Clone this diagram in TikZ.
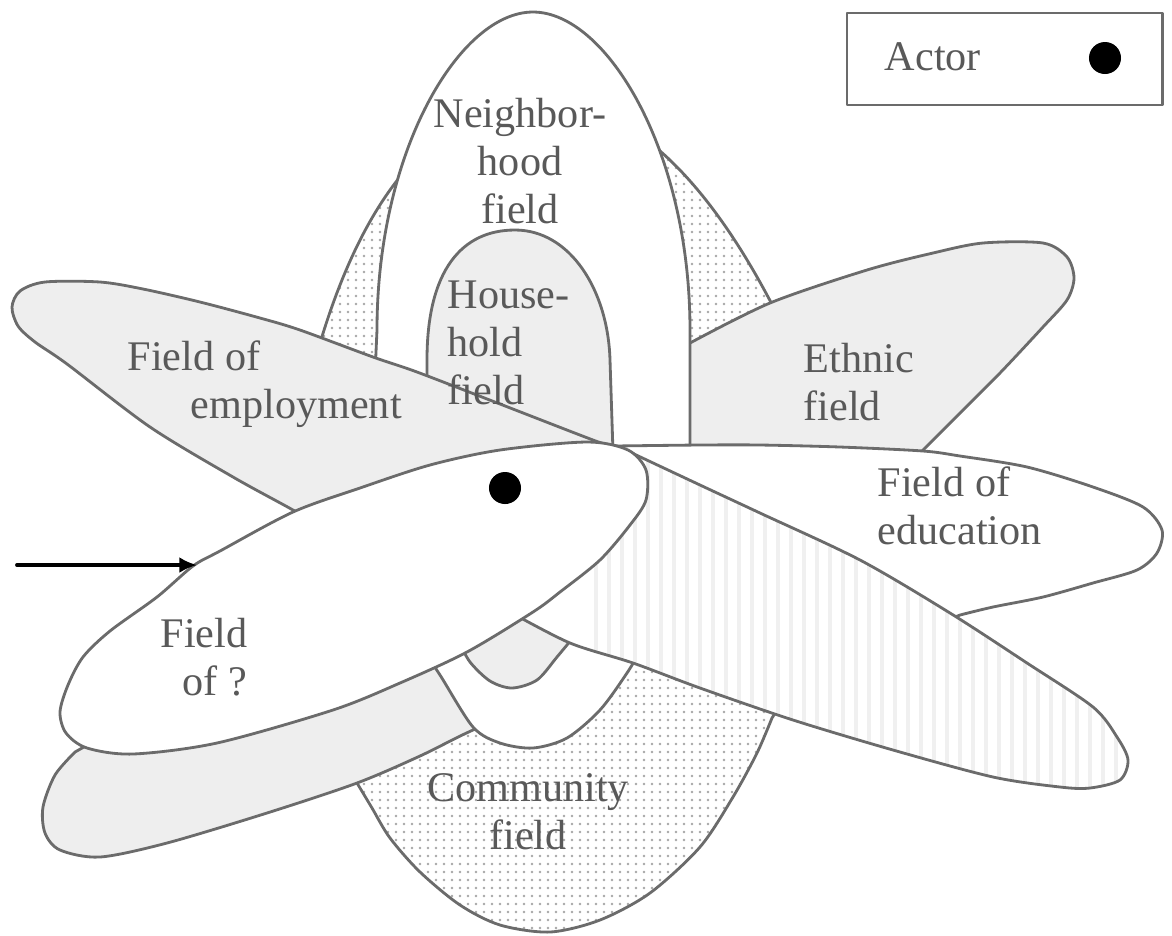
\documentclass[tikz,border=0pt]{standalone}
\usepackage{fontspec}
\setmainfont{Liberation Serif}
\usetikzlibrary{arrows.meta}
\definecolor{linegray}{gray}{0.42}
\definecolor{textgray}{gray}{0.35}
\definecolor{fieldgray}{gray}{0.935}
% outlines of the fields, in pixel units of the sketch
\newcommand{\dotarchpath}{(318,350) .. controls (360,205) and (430,105) .. (540,100) .. controls (640,100) and (720,200) .. (780,320) -- (720,400) -- (600,425) -- (345,372) -- cycle}
\newcommand{\nbhpath}{(372,440) -- (377,330) .. controls (377,150) and (460,12) .. (533,12) .. controls (606,12) and (690,150) .. (690,330) -- (690,470) -- cycle}
\newcommand{\househpath}{(427,440) -- (427,360) .. controls (427,270) and (462,230) .. (515,230) .. controls (570,230) and (608,290) .. (610,360) -- (613,452) -- cycle}
\newcommand{\ethnicpath}{(650,465) -- (650,355) -- plot[smooth] coordinates {(690,343) (770,303) (867,270) (933,253) (983,243) (1043,243) (1067,257) (1074,278) (1067,300) (1043,327) (1000,373) (960,413) (923,450) (905,468)} -- cycle}
\newcommand{\employpath}{plot[smooth] coordinates {(615,447) (593,440) (500,404) (417,372) (373,357) (300,330) (260,318) (200,302) (143,289) (100,282) (45,282) (20,291) (12,307) (18,326) (35,342) (67,364) (150,427) (233,477) (293,510) (345,540)} -- (480,540) -- (600,470) -- cycle}
\newcommand{\graypetalpath}{(150,715) -- (100,738) -- plot[smooth] coordinates {(75,752) (55,775) (43,807) (45,833) (60,850) (100,857) (167,843) (267,813) (357,783) (420,756) (473,730) (550,698) (610,666)} -- (700,640) -- (620,560) -- cycle}
\newcommand{\midupath}{plot[smooth] coordinates {(420,645) (440,675) (473,727) (500,743) (533,748) (567,738) (600,710) (627,673) (642,648)} -- (620,560) -- (440,600) -- cycle}
\newcommand{\smallupath}{plot[smooth] coordinates {(458,640) (470,662) (490,681) (512,688) (537,680) (557,657) (576,634)} -- (560,580) -- (470,610) -- cycle}
\newcommand{\communitypath}{(400,720) -- (348,762) -- plot[smooth] coordinates {(357,783) (372,808) (390,838) (420,872) (460,905) (500,925) (550,932) (600,920) (650,893) (700,847) (733,797) (757,753) (772,718)} -- (790,690) -- (600,650) -- cycle}
\newcommand{\educationpath}{plot[smooth] coordinates {(614,446) (700,445) (760,445) (840,447) (923,451) (960,456) (1027,467) (1093,487) (1143,507) (1162,530) (1157,553) (1137,570) (1093,583) (1043,597) (993,607) (960,615)} -- (900,640) -- (760,570) -- (640,490) -- cycle}
\newcommand{\stripedpath}{(590,470) -- plot[smooth] coordinates {(617,446) (700,485) (760,513) (860,560) (950,613) (1027,663) (1093,707) (1117,737) (1128,760) (1120,780) (1090,788) (1060,787) (993,777) (893,750) (793,720) (700,688) (633,663) (570,643) (510,612)} -- (560,500) -- cycle}
\newcommand{\fieldqpath}{plot[smooth cycle] coordinates {(60,712) (68,685) (83,657) (110,631) (157,597) (193,566) (220,551) (293,512) (360,488) (430,465) (500,450) (587,442) (628,450) (646,470) (646,500) (630,525) (600,560) (560,592) (533,612) (467,652) (400,683) (333,710) (217,743) (133,754) (87,748) (66,733)}}
\begin{document}
\begin{tikzpicture}[x=0.01cm,y=-0.01cm,line cap=round,line join=round,
  field/.style={draw=linegray,line width=0.8pt},
  lab/.style={text=textgray,inner sep=0pt,font=\fontsize{12}{13.7}\selectfont}]
  \useasboundingbox (0,0) rectangle (1172,935);
  % dotted arch behind the neighbourhood
  \fill[white] \dotarchpath;
  \begin{scope}
   \clip \dotarchpath;
   \foreach \x in {316,324,...,784}
    \foreach \y in {96,104,...,380}
     \fill[black!35] (\x,\y) circle[radius=0.013cm];
  \end{scope}
  \draw[field] \dotarchpath;
  % community field
  \fill[white] \communitypath;
  \begin{scope}
   \clip \communitypath;
   \foreach \x in {340,348,...,800}
    \foreach \y in {640,648,...,940}
     \fill[black!35] (\x,\y) circle[radius=0.013cm];
  \end{scope}
  \draw[field] \communitypath;
  \draw[field,fill=fieldgray] \ethnicpath;
  \draw[field,fill=white] \nbhpath;
  \draw[field,fill=fieldgray] \househpath;
  \draw[field,fill=fieldgray] \employpath;
  \draw[field,fill=fieldgray] \graypetalpath;
  \draw[field,fill=white] \midupath;
  \draw[field,fill=fieldgray] \smallupath;
  \draw[field,fill=white] \educationpath;
  % striped field
  \fill[white] \stripedpath;
  \begin{scope}
   \clip \stripedpath;
   \foreach \x in {596,609,...,1140}
    \draw[black!6,line width=1.2pt] (\x,430) -- (\x,800);
  \end{scope}
  \draw[field] \stripedpath;
  \draw[field,fill=white] \fieldqpath;
  % labels
  \node[lab,align=center] (nbhlabel) at (520,161) {Neighbor-\\hood\\field};
  \node[lab,align=left,anchor=west] (hhlabel) at (447,343) {House-\\hold\\field};
  \node[lab,align=left,anchor=west] (ethlabel) at (803,382) {Ethnic\\field};
  \node[lab,align=left,anchor=west] (emplabel) at (127,384) {Field of\\\hspace*{0.63cm}employment};
  \node[lab,align=left,anchor=west] (edulabel) at (877,506) {Field of\\education};
  \node[lab,align=right,anchor=east] (fqlabel) at (248,657) {Field\\of ?};
  \node[lab,align=center] (comlabel) at (528,812) {Community\\field};
  % actor and legend
  \node[circle,fill=black,inner sep=0pt,minimum size=0.32cm] (actor) at (505,488) {};
  \node[field,minimum width=3.15cm,minimum height=0.92cm,inner sep=0pt] (legend) at (1004.5,59) {};
  \node[lab] (actorlabel) at (933,57) {Actor};
  \node[circle,fill=black,inner sep=0pt,minimum size=0.32cm] (legenddot) at (1105,58) {};
  % arrow into the unknown field
  \coordinate (arrowtail) at (17,565);
  \coordinate (arrowhead) at (197,565);
  \draw[line width=1.1pt,-{Latex[length=5pt,width=4.5pt]}] (arrowtail) -- (arrowhead);
\end{tikzpicture}
\end{document}
